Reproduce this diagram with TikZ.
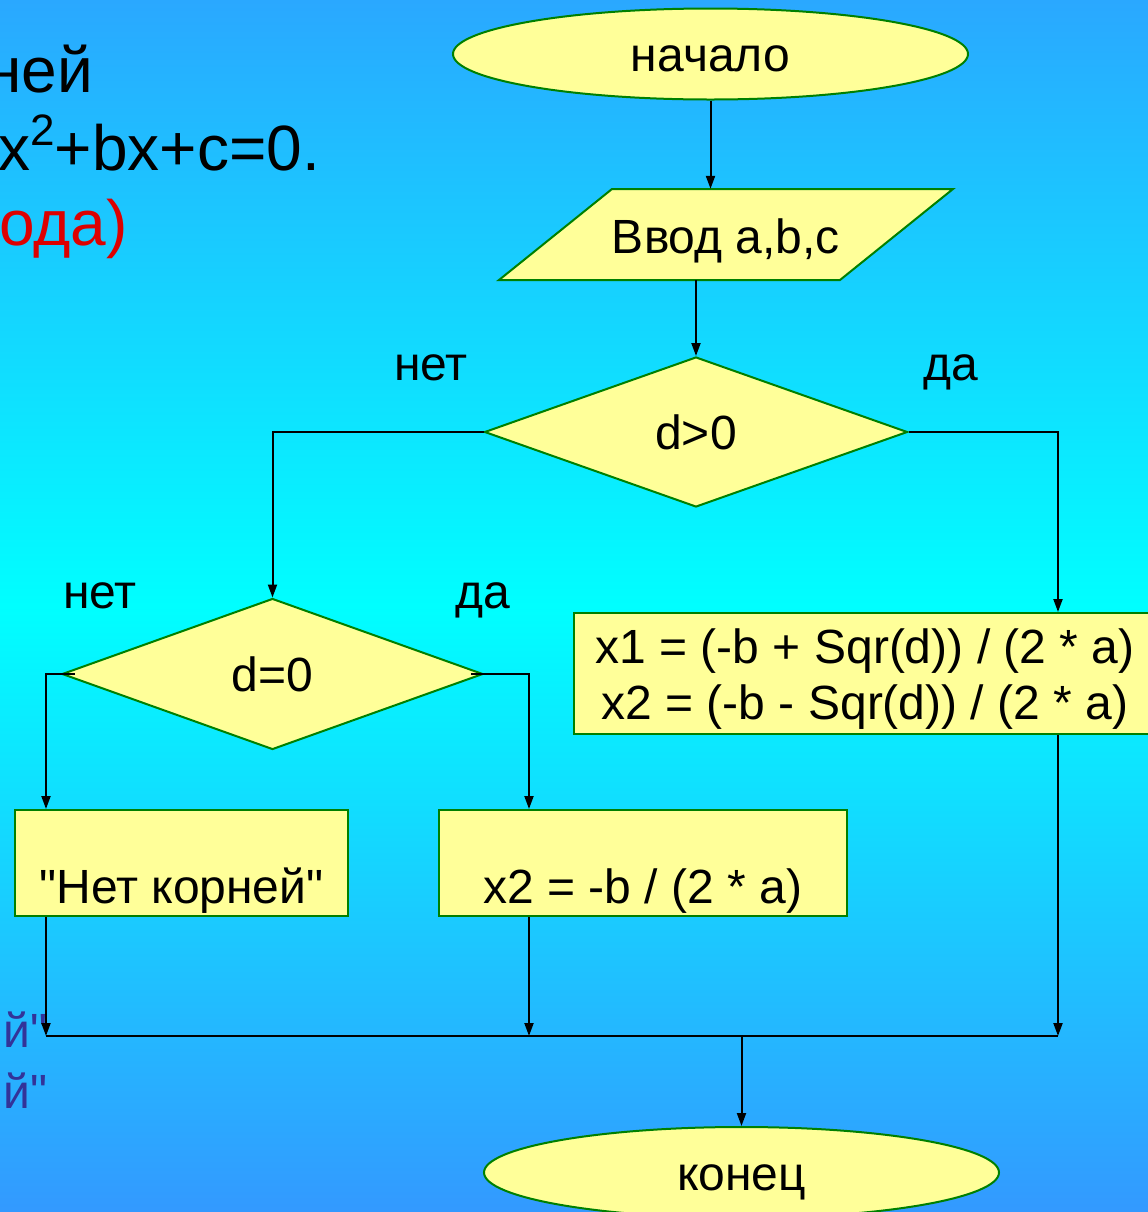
\documentclass[tikz,border=0pt]{standalone}
\usepackage{fontspec}
\setmainfont{Liberation Sans}[Ligatures=TeXOff]
\usetikzlibrary{arrows.meta, shapes.geometric}

\definecolor{blockfill}{RGB}{255,255,153}
\definecolor{blockline}{RGB}{0,128,0}
\definecolor{bgtop}{RGB}{42,168,255}
\definecolor{bgmid}{RGB}{0,255,255}
\definecolor{bgbot}{RGB}{51,153,255}
\definecolor{slidered}{RGB}{221,0,0}
\definecolor{slideblue}{RGB}{51,51,153}

\begin{document}
\begin{tikzpicture}[
    x=1bp, y=-1bp,
    font=\fontsize{48bp}{56bp}\selectfont,
    outline/.style={draw=blockline, line width=2bp, fill=blockfill},
    term/.style={outline, ellipse, minimum width=515bp, minimum height=91bp, inner sep=0pt, text height=35bp, text depth=0pt},
    io/.style={rectangle, minimum width=454bp, minimum height=91bp, inner sep=0pt, text height=37bp, text depth=0pt},
    cond/.style={outline, diamond, minimum width=423bp, minimum height=150bp, inner sep=0pt, text height=34bp, text depth=0pt},
    proc/.style={outline, rectangle, inner sep=0pt, align=center},
    lowtext/.style={text height=93bp, text depth=13bp, minimum height=106bp},
    headtext/.style={anchor=base east, inner sep=0pt, font=\fontsize{64bp}{72bp}\selectfont},
    arr/.style={-{Triangle[length=13bp,width=9bp]}, line width=2bp},
    conn/.style={line width=2bp}
  ]
    \useasboundingbox (0,0) rectangle (1148,1212);
    \clip (0,0) rectangle (1148,1212);
    \shade[top color=bgtop, bottom color=bgbot, middle color=bgmid] (0,0) rectangle (1148,1212);

    \node[headtext] (head1) at (93,92) {ней};
    \node[headtext] (head2) at (320,170) {x\raisebox{25bp}{\fontsize{44bp}{44bp}\selectfont 2}+bx+c=0.};
    \node[headtext, text=slidered] (head3) at (128,245) {ода)};
    \node[anchor=base east, inner sep=0pt, text=slideblue] (tail1) at (48,1047) {й"};
    \node[anchor=base east, inner sep=0pt, text=slideblue] (tail2) at (48,1108) {й"};

    \node[term] (start) at (710.5,54) {начало};
    \path[outline] (612,189) -- (953,189) -- (840,280) -- (499,280) -- cycle;
    \node[io] (input) at (726,234.5) {Ввод a,b,c};
    \node[cond] (dpos) at (696,432) {d>0};
    \node[cond, minimum width=421bp, minimum height=151bp] (dzero) at (272.5,674) {d=0};
    \node[proc, minimum width=582bp, minimum height=121bp] (roots) at (865,673.5) {\rule{0pt}{45bp}x1 = (-b + Sqr(d)) / (2 * a)\\x2 = (-b - Sqr(d)) / (2 * a)};
    \node[proc, lowtext, minimum width=333bp] (none) at (181.5,863) {"Нет корней"};
    \node[proc, lowtext, minimum width=408bp] (single) at (643,863) {x2 = -b / (2 * a)};
    \node[term] (stop) at (741.5,1172.5) {конец};

    \node[anchor=base] (noa) at (431,380) {нет};
    \node[anchor=base] (yesa) at (951,380) {да};
    \node[anchor=base] (nob) at (100,608) {нет};
    \node[anchor=base] (yesb) at (483,608) {да};

    \coordinate (jl) at (46,1036);
    \coordinate (jm) at (529,1036);
    \coordinate (jr) at (1058,1036);

    \draw[arr] (start.south) -- (start.south |- input.north);
    \draw[arr] (dpos.north |- input.south) -- (dpos.north);
    \draw[arr] (dpos.west) -| (dzero.north);
    \draw[arr] (dpos.east) -| (jr |- roots.north);
    \draw[arr] ([xshift=14bp]dzero.west) -| (jl |- none.north);
    \draw[arr] ([xshift=-13bp]dzero.east) -| (jm |- single.north);
    \draw[arr] (jl |- none.south) -- (jl);
    \draw[arr] (jm |- single.south) -- (jm);
    \draw[arr] (jr |- roots.south) -- (jr);
    \draw[conn] (jl) -- (jr);
    \draw[arr] (jl -| stop.north) -- (stop.north);
  \end{tikzpicture}
\end{document}
